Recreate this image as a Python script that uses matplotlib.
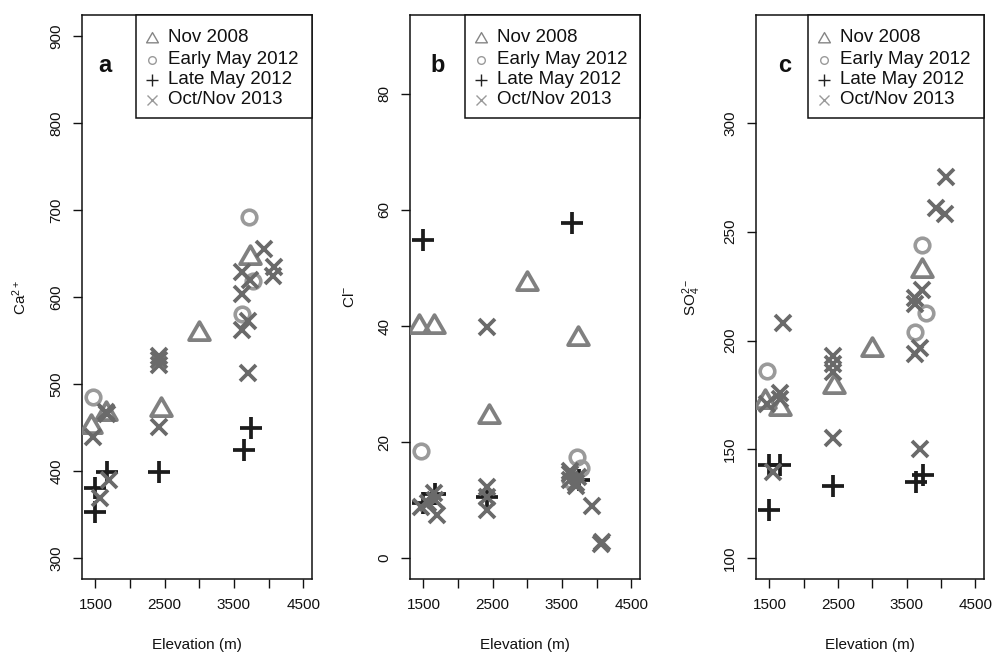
import matplotlib
matplotlib.use("Agg")
import matplotlib.pyplot as plt
from matplotlib.path import Path
from matplotlib.patches import Rectangle

plt.rcParams['font.family'] = ['Liberation Sans', 'DejaVu Sans']
plt.rcParams['mathtext.fontset'] = 'custom'
plt.rcParams['mathtext.rm'] = 'Liberation Sans'
plt.rcParams['mathtext.it'] = 'Liberation Sans:italic'

# ---------------- data ----------------
series_labels = ["Nov 2008", "Early May 2012", "Late May 2012", "Oct/Nov 2013"]

# Nov 2008 (triangles)
tri_elev = [1430, 1650, 2440, 2990, 3730]
tri_ca = [453, 468, 473, 560, 647]
tri_cl = [40.2, 40.2, 24.7, 47.6, 38.1]
tri_so4 = [172.5, 169.5, 179.5, 196.5, 233]

# Early May 2012 (circles)
circ_elev = [1460, 3620, 3720, 3780]
circ_ca = [485, 580, 692, 618]
circ_cl = [18.4, 13.5, 17.4, 15.5]
circ_so4 = [186, 204, 244, 212.5]

# Late May 2012 (plus)
plus_elev = [1490, 1490, 1660, 2420, 3640, 3740]
plus_ca = [381, 353, 399, 399, 424, 449]
plus_cl = [54.8, 9.5, 11.0, 10.5, 57.8, 13.5]
plus_so4 = [143, 122, 143, 133, 135, 138]

# Oct/Nov 2013 (x)
x_elev = [1460, 1560, 1650, 1660, 1700, 2420, 2420, 2420, 2420,
          3620, 3620, 3620, 3700, 3700, 3730, 3930, 4080, 4060]
x_ca = [439, 369, 468, 465, 390, 528, 522, 451, 532,
        629, 603, 562, 572, 513, 620, 655, 634, 624]
x_cl = [8.8, 9.5, 11.2, 10.0, 7.4, 39.8, 12.3, 8.3, 10.5,
        14.5, 13.5, 15.0, 12.5, 13.0, 14.0, 8.9, 2.8, 2.5]
x_so4 = [171, 139.5, 176, 173, 208, 155, 193, 189, 185.5,
         219.5, 194, 217, 196.5, 150, 223, 261, 275, 258]

panel_letters = ["a", "b", "c"]
y_labels = [r"Ca$^{2+}$", r"Cl$^{-}$", r"SO$_4^{2-}$"]
x_ticks = [1500, 2000, 2500, 3000, 3500, 4000, 4500]
y_ticks_list = [[300, 400, 500, 600, 700, 800, 900],
                [0, 20, 40, 60, 80],
                [100, 150, 200, 250, 300]]
y_lims = [(276, 924), (-3.6, 93.6), (90.4, 349.6)]
x_lim = (1305, 4628)

panel_values = [
    (tri_ca, circ_ca, plus_ca, x_ca),
    (tri_cl, circ_cl, plus_cl, x_cl),
    (tri_so4, circ_so4, plus_so4, x_so4),
]
elevs = (tri_elev, circ_elev, plus_elev, x_elev)

# ---------------- style ----------------
tri_marker = Path([(0, 1.0), (-1, -0.732), (1, -0.732), (0, 1.0)],
                  [Path.MOVETO, Path.LINETO, Path.LINETO, Path.CLOSEPOLY])
markers = [tri_marker, 'o', '+', 'x']
colors = ['#808080', '#9a9a9a', '#1c1c1c', '#6a6a6a']
msizes = [15, 10.5, 15.5, 11.5]
mews = [2.7, 2.6, 2.7, 2.7]
leg_colors = ['#858585', '#9a9a9a', '#222222', '#9a9a9a']
leg_msizes = [8.5, 5.5, 9, 7]

fig = plt.figure(figsize=(9.94, 6.53), dpi=100)
W, H = 994, 653
boxes = [(82, 312), (410, 640), (756, 984)]
top_px, bot_px = 15, 579
leg_left_px = [136, 465, 808]
ylab_off_px = [62, 60, 64]
letter_x_px = [105, 438, 785]

for i in range(3):
    l, r = boxes[i]
    ax = fig.add_axes([l / W, (H - bot_px) / H, (r - l) / W, (bot_px - top_px) / H])
    aw = r - l
    ah = bot_px - top_px
    vals = panel_values[i]
    for k in range(4):
        ax.plot(elevs[k], vals[k], linestyle='none', marker=markers[k],
                ms=msizes[k], mew=mews[k], mec=colors[k], mfc='none',
                color=colors[k], zorder=3 + k)
    ax.set_xlim(*x_lim)
    ax.set_ylim(*y_lims[i])
    ax.set_xticks(x_ticks)
    ax.set_xticklabels([str(t) if t % 1000 == 500 else "" for t in x_ticks])
    ax.set_yticks(y_ticks_list[i])
    ax.set_yticklabels([str(t) for t in y_ticks_list[i]], rotation=90, va='center')
    ax.tick_params(axis='both', direction='out', length=6.5, width=1.0,
                   labelsize=11, colors='#111111')
    ax.tick_params(axis='x', pad=7)
    ax.tick_params(axis='y', pad=7)
    for sp in ax.spines.values():
        sp.set_linewidth(1.1)
        sp.set_color('#111111')
    ax.set_xlabel("Elevation (m)", fontsize=11, color='#111111', va='center')
    ax.xaxis.set_label_coords(0.5, -(645 - bot_px) / ah)
    ax.set_ylabel(y_labels[i], fontsize=11, color='#111111', va='center')
    ax.yaxis.set_label_coords(-ylab_off_px[i] / aw, 0.5)

    # panel letter
    ax.text((letter_x_px[i] - l) / aw, 1 - (65 - top_px) / ah, panel_letters[i],
            transform=ax.transAxes, fontsize=17, fontweight='bold',
            ha='center', va='center', color='#111111')

    # legend (manual, R-style)
    lx = (leg_left_px[i] - l) / aw
    ly = 1 - (118 - top_px) / ah
    ax.add_patch(Rectangle((lx, ly), 1 - lx, 1 - ly, transform=ax.transAxes,
                           fill=True, facecolor='white', edgecolor='#111111',
                           linewidth=1.1, zorder=10, clip_on=False))
    sym_x = lx + (16 / aw)
    txt_x = lx + (32 / aw)
    row_y_px = [38, 59.5, 80, 100]
    for k in range(4):
        yy = 1 - (row_y_px[k] - top_px) / ah
        ax.plot([sym_x], [yy], transform=ax.transAxes, marker=markers[k],
                ms=leg_msizes[k], mew=1.0, mec=leg_colors[k], mfc='none',
                linestyle='none', zorder=11, clip_on=False)
        ax.text(txt_x, yy, series_labels[k], transform=ax.transAxes,
                fontsize=13.5, ha='left', va='center', color='#111111', zorder=11)

fig.savefig("out.png", dpi=100)
